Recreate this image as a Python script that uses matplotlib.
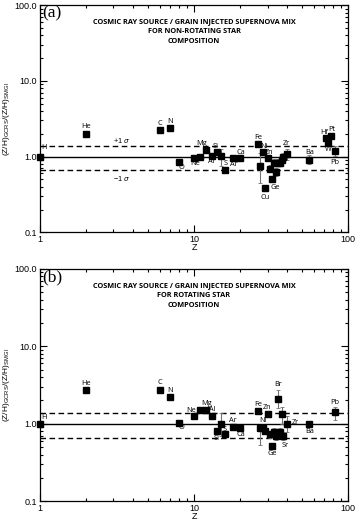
import numpy as np
import matplotlib.pyplot as plt
from matplotlib.ticker import FixedLocator, FixedFormatter, LogLocator, NullFormatter

nan = np.nan

# ---- panel (a): non-rotating star ----
elem_a = ['H', 'He', 'C', 'N', 'O', 'Ne', 'Na', 'Mg', 'Al', 'Si', 'P', 'S', 'Ar', 'Ca',
          'Fe', 'Co', 'Ni', 'Cu', 'Zn', 'Ga', 'Ge', 'As', 'Se', 'Br', 'Kr', 'Rb', 'Sr',
          'Zr', 'Ba', 'Hf', 'W', 'Pt', 'Pb']
z_a = [1, 2, 6, 7, 8, 10, 11, 12, 13, 14, 15, 16, 18, 20,
       26, 27, 28, 29, 30, 31, 32, 33, 34, 35, 36, 37, 38,
       40, 56, 72, 74, 78, 82]
ratio_a = [1.0, 1.99, 2.22, 2.38, 0.86, 0.96, 1.0, 1.24, 1.03, 1.14, 1.01, 0.67, 0.95, 0.95,
           1.47, 0.75, 1.15, 0.39, 0.96, 0.69, 0.50, 0.83, 0.62, 0.83, 0.83, 0.91, 1.0,
           1.08, 0.91, 1.74, 1.50, 1.87, 1.17]
lo_a = [nan, nan, nan, nan, nan, nan, nan, nan, nan, 1.05, 0.75, nan, nan, nan,
        nan, 0.45, nan, nan, nan, 0.62, nan, 0.74, 0.55, 0.74, 0.74, 0.82, 0.90,
        0.91, 0.79, nan, nan, nan, 1.01]
hi_a = [nan, nan, nan, nan, nan, nan, nan, nan, nan, 1.24, 1.26, nan, nan, nan,
        nan, 1.10, nan, nan, nan, 0.77, nan, 0.93, 0.70, 0.93, 0.93, 1.02, 1.10,
        1.26, 1.06, nan, nan, nan, 1.37]
title_a = 'COSMIC RAY SOURCE / GRAIN INJECTED SUPERNOVA MIX\nFOR NON-ROTATING STAR\nCOMPOSITION'

# ---- panel (b): rotating star ----
elem_b = ['H', 'He', 'C', 'N', 'O', 'Ne', 'Na', 'Mg', 'Al', 'Si', 'P', 'S', 'Ar', 'Ca',
          'Fe', 'Co', 'Ni', 'Cu', 'Zn', 'Ga', 'Ge', 'As', 'Se', 'Br', 'Kr', 'Rb', 'Sr',
          'Zr', 'Ba', 'Pb']
z_b = [1, 2, 6, 7, 8, 10, 11, 12, 13, 14, 15, 16, 18, 20,
       26, 27, 28, 29, 30, 31, 32, 33, 34, 35, 36, 37, 38,
       40, 56, 82]
ratio_b = [1.0, 2.71, 2.76, 2.19, 1.03, 1.27, 1.52, 1.52, 1.27, 0.80, 0.98, 0.73, 0.91, 0.87,
           1.44, 0.89, 0.89, 0.80, 1.35, 0.73, 0.52, 0.79, 0.69, 2.09, 0.79, 1.35, 0.69,
           1.0, 0.99, 1.40]
lo_b = [nan, nan, nan, nan, nan, nan, nan, nan, nan, nan, 0.70, nan, nan, nan,
        nan, 0.53, nan, nan, nan, 0.66, nan, 0.70, 0.62, 1.58, 0.70, 1.0, 0.62,
        0.79, 0.92, 1.12]
hi_b = [nan, nan, nan, nan, nan, nan, nan, nan, nan, nan, 1.36, nan, nan, nan,
        nan, 0.96, nan, nan, nan, 0.80, nan, 0.88, 0.77, 2.73, 0.88, 1.66, 0.77,
        1.27, 1.07, 1.66]
title_b = 'COSMIC RAY SOURCE / GRAIN INJECTED SUPERNOVA MIX\nFOR ROTATING STAR\nCOMPOSITION'

sigma_hi = 1.38
sigma_lo = 0.66

# label offsets in pixels (dx, dy) relative to the marker
offs_a = {'H': (4, 9), 'He': (0, 7), 'C': (0, 7), 'N': (0, 7), 'O': (2, -6), 'Ne': (1, -6),
          'Mg': (-5, 6), 'Al': (0, -6), 'Si': (-1, 6), 'S': (0, 6), 'Ar': (0, -6), 'Ca': (0, 6),
          'Fe': (0, 6), 'Ni': (1, 6), 'Zn': (2, 5), 'Cu': (0, -10), 'Ge': (3, -8), 'Zr': (0, 11),
          'Ba': (0, 7), 'Hf': (-2, 6), 'W': (0, -6), 'Pt': (0, 7), 'Pb': (0, -11)}
offs_b = {'H': (4, 6), 'He': (0, 7), 'C': (0, 7), 'N': (0, 7), 'O': (2, -5), 'Ne': (-3, 5),
          'Mg': (0, 6), 'Al': (1, 6), 'Si': (0, -7), 'S': (-1, 5), 'Ar': (-1, 6), 'Ca': (0, -6),
          'Fe': (0, 7), 'Zn': (0, 6), 'Ni': (0, 7), 'Br': (0, 14), 'Ge': (0, -8), 'Sr': (2, -9),
          'Zr': (9, 1), 'Ba': (0, -7), 'Pb': (0, 10)}

plt.rcParams['font.family'] = ['Liberation Sans', 'DejaVu Sans']

fig = plt.figure(figsize=(3.57, 5.22), dpi=100)
ax_a = fig.add_axes([0.112, 0.555, 0.863, 0.435])
ax_b = fig.add_axes([0.112, 0.040, 0.863, 0.445])

px = 72.0 / fig.dpi
label_font = ['Open Sans', 'DejaVu Sans']


def draw(ax, elems, zs, ratios, lo, hi, offs, title, tag, sigma_text):
    ax.set_xscale('log')
    ax.set_yscale('log')
    ax.set_xlim(1, 100)
    ax.set_ylim(0.1, 100)

    ax.axhline(1.0, color='black', lw=1.0, zorder=1)
    ax.axhline(sigma_hi, color='black', lw=1.0, ls=(0, (4, 2.5)), zorder=1)
    ax.axhline(sigma_lo, color='black', lw=1.0, ls=(0, (4, 2.5)), zorder=1)

    zs = np.array(zs, float)
    ratios = np.array(ratios, float)
    lo = np.array(lo, float)
    hi = np.array(hi, float)
    has = ~np.isnan(lo)
    ax.errorbar(zs[has], ratios[has],
                yerr=[ratios[has] - lo[has], hi[has] - ratios[has]],
                fmt='none', ecolor='0.45', elinewidth=0.8, capsize=1.5, capthick=0.6, zorder=2)
    ax.plot(zs, ratios, 's', color='black', ms=3.9, zorder=3, clip_on=False)

    for name, z, r in zip(elems, zs, ratios):
        if name in offs:
            dx, dy = offs[name]
            ax.annotate(name, (z, r), xytext=(dx * px, dy * px), textcoords='offset points',
                        ha='center', va='center', fontsize=5.3, family=label_font)

    if sigma_text:
        ax.annotate('+1 $\\sigma$', (1, sigma_hi), xytext=(82 * px, 6 * px), textcoords='offset points',
                    ha='center', va='center', fontsize=5.2)
        ax.annotate('\u22121 $\\sigma$', (1, sigma_lo), xytext=(82 * px, -8 * px), textcoords='offset points',
                    ha='center', va='center', fontsize=5.2)

    ax.text(0.5, 0.945, title, transform=ax.transAxes, ha='center', va='top',
            fontsize=5.3, fontweight='bold', family=label_font, linespacing=1.65)
    ax.text(0.006, 0.998, tag, transform=ax.transAxes, ha='left', va='top',
            fontsize=12.5, family=['Liberation Serif', 'DejaVu Serif'])

    ax.xaxis.set_major_locator(FixedLocator([1, 10, 100]))
    ax.xaxis.set_major_formatter(FixedFormatter(['1', '10', '100']))
    ax.xaxis.set_minor_locator(LogLocator(base=10, subs=np.arange(2, 10)))
    ax.xaxis.set_minor_formatter(NullFormatter())
    ax.yaxis.set_major_locator(FixedLocator([0.1, 1, 10, 100]))
    ax.yaxis.set_major_formatter(FixedFormatter(['0.1', '1.0', '10.0', '100.0']))
    ax.yaxis.set_minor_locator(LogLocator(base=10, subs=np.arange(2, 10)))
    ax.yaxis.set_minor_formatter(NullFormatter())
    ax.tick_params(which='both', direction='in', top=True, right=True, width=0.8, labelsize=6.5, pad=2)
    ax.tick_params(which='major', length=5)
    ax.tick_params(which='minor', length=2.5)
    for s in ax.spines.values():
        s.set_linewidth(0.9)

    ax.set_xlabel('Z', fontsize=6.5, labelpad=-1)
    ax.set_ylabel('(Z/H)$_{\\mathregular{GCRS}}$/(Z/H)$_{\\mathregular{SMGI}}$', fontsize=6, labelpad=2)


draw(ax_a, elem_a, z_a, ratio_a, lo_a, hi_a, offs_a, title_a, '(a)', True)
draw(ax_b, elem_b, z_b, ratio_b, lo_b, hi_b, offs_b, title_b, '(b)', False)

fig.savefig('out.png', dpi=100)
